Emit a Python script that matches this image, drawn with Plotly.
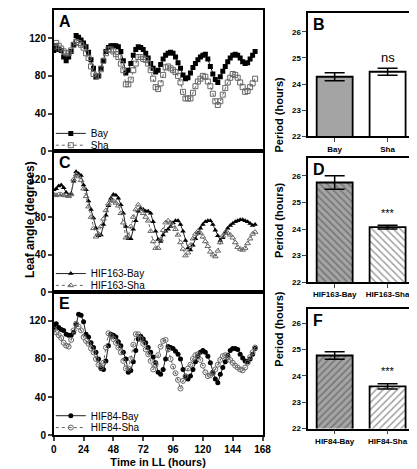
import plotly.graph_objects as go

HOURS = list(range(0, 163, 2))

A_BAY = [107, 112, 108, 107, 100, 96, 100, 106, 113, 123,
         121, 118, 115, 111, 105, 97, 88, 79, 80, 88,
         96, 106, 110, 112, 112, 112, 111, 106, 96, 83,
         86, 93, 102, 108, 111, 110, 108, 104, 99, 93,
         88, 84, 86, 92, 98, 102, 104, 105, 104, 100,
         94, 88, 81, 77, 78, 83, 89, 93, 97, 100,
         102, 103, 98, 90, 82, 76, 73, 79, 85, 90,
         95, 99, 102, 103, 102, 99, 95, 93, 94, 98,
         102, 106]
A_SHA = [111, 115, 112, 109, 106, 104, 104, 107, 113, 116,
         115, 113, 110, 104, 99, 90, 82, 79, 80, 87,
         96, 104, 108, 108, 106, 103, 100, 93, 86, 71,
         71, 76, 86, 93, 100, 100, 98, 97, 93, 86,
         77, 68, 66, 72, 81, 89, 90, 88, 86, 84,
         80, 73, 63, 56, 56, 56, 62, 69, 74, 77,
         80, 79, 74, 69, 61, 53, 49, 53, 60, 67,
         73, 78, 82, 81, 78, 73, 68, 63, 64, 68,
         72, 77]
C_BAY = [109, 110, 113, 114, 111, 106, 103, 105, 118, 128,
         126, 124, 114, 109, 97, 88, 79, 68, 60, 61,
         72, 82, 92, 100, 104, 103, 100, 93, 84, 70,
         57, 57, 67, 76, 86, 89, 88, 86, 86, 84,
         75, 65, 56, 54, 61, 65, 67, 70, 74, 76,
         76, 72, 65, 55, 47, 45, 50, 57, 63, 68,
         72, 75, 76, 76, 72, 66, 60, 55, 58, 64,
         68, 71, 73, 75, 76, 77, 77, 76, 75, 73,
         71, 72]
C_SHA = [104, 103, 104, 104, 103, 103, 102, 104, 120, 125,
         123, 119, 110, 102, 91, 80, 68, 59, 62, 70,
         78, 87, 94, 98, 97, 95, 92, 84, 74, 58,
         60, 70, 80, 88, 93, 89, 84, 80, 76, 65,
         54, 47, 47, 56, 66, 74, 76, 74, 71, 67,
         61, 53, 46, 39, 42, 50, 57, 62, 65, 63,
         59, 54, 49, 43, 40, 38, 44, 53, 60, 63,
         63, 61, 58, 53, 48, 46, 45, 47, 52, 57,
         62, 64]
E_BAY = [113, 117, 113, 111, 110, 106, 105, 105, 108, 116,
         127, 126, 119, 106, 103, 97, 92, 87, 80, 70,
         69, 78, 94, 106, 105, 103, 98, 94, 87, 80,
         66, 68, 77, 89, 101, 104, 101, 97, 92, 87,
         82, 76, 66, 64, 69, 80, 93, 92, 91, 88,
         85, 80, 69, 61, 59, 62, 69, 77, 83, 87,
         89, 87, 83, 76, 66, 59, 55, 64, 71, 77,
         84, 89, 91, 91, 90, 85, 81, 78, 77, 80,
         85, 91]
E_SHA = [111, 108, 105, 102, 97, 94, 93, 100, 110, 117,
         114, 110, 103, 99, 96, 91, 87, 80, 74, 71,
         76, 92, 107, 104, 101, 97, 92, 87, 78, 70,
         70, 80, 95, 106, 106, 101, 96, 90, 85, 78,
         69, 74, 84, 93, 99, 100, 90, 80, 72, 65,
         58, 49, 57, 62, 70, 74, 80, 84, 85, 79,
         73, 66, 62, 63, 65, 69, 74, 79, 83, 84,
         82, 79, 76, 73, 71, 69, 68, 71, 76, 82,
         87, 92]

B_CATS = ["Bay", "Sha"]
B_PERIOD = [24.28, 24.47]
B_SEM = [0.15, 0.13]
D_CATS = ["HIF163-Bay", "HIF163-Sha"]
D_PERIOD = [25.75, 24.07]
D_SEM = [0.25, 0.07]
F_CATS = ["HIF84-Bay", "HIF84-Sha"]
F_PERIOD = [24.77, 23.60]
F_SEM = [0.14, 0.10]

X_TICKS = [0, 24, 48, 72, 96, 120, 144, 168]
Y_TICKS = [0, 40, 80, 120]
P_TICKS = [22, 23, 24, 25, 26]

FONT = "Arial, Liberation Sans, sans-serif"
GRAY = "#666666"
BARGRAY = "#a4a4a4"
W, H = 417, 469


def px_x(p):
    return p / W


def px_y(p):
    return 1 - p / H


fig = go.Figure()

series = [
    ("x", "y", "legend", "legend2", A_BAY, A_SHA, "Bay", "Sha", "square", "square-open"),
    ("x2", "y2", "legend3", "legend4", C_BAY, C_SHA, "HIF163-Bay", "HIF163-Sha",
     "triangle-up", "triangle-up-open"),
    ("x3", "y3", "legend5", "legend6", E_BAY, E_SHA, "HIF84-Bay", "HIF84-Sha",
     "circle", "circle-open-dot"),
]
for xa, ya, lb, ls, bay, sha, nb, ns, mb, ms in series:
    fig.add_trace(go.Scatter(x=HOURS, y=bay, name=nb, xaxis=xa, yaxis=ya, legend=lb,
                             mode="lines+markers",
                             line=dict(color="#222222", width=1),
                             marker=dict(symbol=mb, size=5, color="black")))
    fig.add_trace(go.Scatter(x=HOURS, y=sha, name=ns, xaxis=xa, yaxis=ya, legend=ls,
                             mode="lines+markers",
                             line=dict(color=GRAY, width=1, dash="dot"),
                             marker=dict(symbol=ms, size=5, color=GRAY,
                                         line=dict(width=1, color=GRAY))))

bars = [
    ("x4", "y4", B_CATS, B_PERIOD, B_SEM, ""),
    ("x5", "y5", D_CATS, D_PERIOD, D_SEM, "\\"),
    ("x6", "y6", F_CATS, F_PERIOD, F_SEM, "/"),
]
for xa, ya, cats, vals, sem, shape in bars:
    fig.add_trace(go.Bar(
        x=cats, y=vals, xaxis=xa, yaxis=ya, showlegend=False, width=0.68,
        marker=dict(color=[BARGRAY, "white"], line=dict(color="black", width=1.8),
                    pattern=dict(shape=shape, fgcolor="black", bgcolor=[BARGRAY, "white"],
                                 size=5, solidity=0.3, fillmode="overlay")),
        error_y=dict(type="data", array=sem, color="black", thickness=1.5, width=10)))

left_x = [px_x(44), px_x(259)]
left_y = [(2, 145), (145, 288), (288, 432.7)]
right_x = [px_x(306), px_x(415)]
right_y = [(5, 130, 26.72), (152, 277.7, 26.67), (305, 426, 26.53)]

axis_common = dict(showline=True, linecolor="black", linewidth=1.5, mirror=True,
                   showgrid=False, zeroline=False)
tickfont = dict(family=FONT, size=10, color="black", weight="bold")
small_tick = dict(family=FONT, size=8, color="black", weight="bold")

layout = dict(
    width=W, height=H, margin=dict(l=0, r=0, t=0, b=0),
    paper_bgcolor="white", plot_bgcolor="white",
    font=dict(family=FONT, color="black"),
)
for i, (t, b) in enumerate(left_y):
    n = "" if i == 0 else str(i + 1)
    last = i == 2
    layout["xaxis" + n] = dict(domain=left_x, range=[0, 168], anchor="y" + n,
                               tickvals=X_TICKS if last else [],
                               ticks="outside" if last else "", ticklen=4, tickwidth=1.5,
                               showticklabels=last, tickfont=tickfont,
                               title=dict(text="Time in LL (hours)", standoff=4,
                                          font=dict(family=FONT, size=11, weight="bold")) if last else None,
                               **axis_common)
    layout["yaxis" + n] = dict(domain=[px_y(b), px_y(t)], range=[0, 150], anchor="x" + n,
                               tickvals=Y_TICKS, ticks="outside", ticklen=4, tickwidth=1.5,
                               tickfont=tickfont, **axis_common)
for i, (t, b, top) in enumerate(right_y):
    n = str(i + 4)
    layout["xaxis" + n] = dict(domain=right_x, range=[-0.5, 1.5], anchor="y" + n,
                               ticks="outside", ticklen=4, tickwidth=1.2,
                               tickfont=small_tick, **axis_common)
    layout["yaxis" + n] = dict(domain=[px_y(b), px_y(t)], range=[22, top], anchor="x" + n,
                               tickvals=P_TICKS, ticks="outside", ticklen=4, tickwidth=1.2,
                               tickfont=small_tick, **axis_common)

leg_common = dict(xanchor="left", yanchor="middle", bgcolor="rgba(0,0,0,0)",
                  font=dict(family=FONT, size=10, color="black"), itemwidth=30,
                  tracegroupgap=0, itemclick=False, itemdoubleclick=False)
leg_pos = [127, 139, 269, 281, 413, 425]
for k, yp in enumerate(leg_pos):
    name = "legend" if k == 0 else "legend" + str(k + 1)
    layout[name] = dict(x=px_x(41), y=px_y(yp), **leg_common)

fig.update_layout(**layout)

anns = []
for lab, xp, yp in [("A", 47, 3), ("C", 47, 146), ("E", 47, 289),
                    ("B", 309, 6), ("D", 309, 153), ("F", 309, 306)]:
    anns.append(dict(text=lab, x=px_x(xp), y=px_y(yp), xref="paper", yref="paper",
                     xanchor="left", yanchor="top", showarrow=False,
                     font=dict(family=FONT, size=16, weight="bold")))
anns.append(dict(text="Leaf angle (degrees)", x=px_x(11), y=px_y(214), xref="paper", yref="paper",
                 textangle=-90, showarrow=False,
                 font=dict(family=FONT, size=12, weight="bold")))
for t, b, _ in right_y:
    anns.append(dict(text="Period (hours)", x=px_x(284), y=px_y((t + b) / 2), xref="paper",
                     yref="paper", textangle=-90, showarrow=False,
                     font=dict(family=FONT, size=11, weight="bold")))
anns.append(dict(text="ns", x="Sha", y=25.0, xref="x4", yref="y4", showarrow=False,
                 font=dict(family=FONT, size=13)))
anns.append(dict(text="***", x="HIF163-Sha", y=24.6, xref="x5", yref="y5", showarrow=False,
                 font=dict(family=FONT, size=11)))
anns.append(dict(text="***", x="HIF84-Sha", y=24.2, xref="x6", yref="y6", showarrow=False,
                 font=dict(family=FONT, size=11)))
fig.update_layout(annotations=anns)

fig.write_html("out.html")
